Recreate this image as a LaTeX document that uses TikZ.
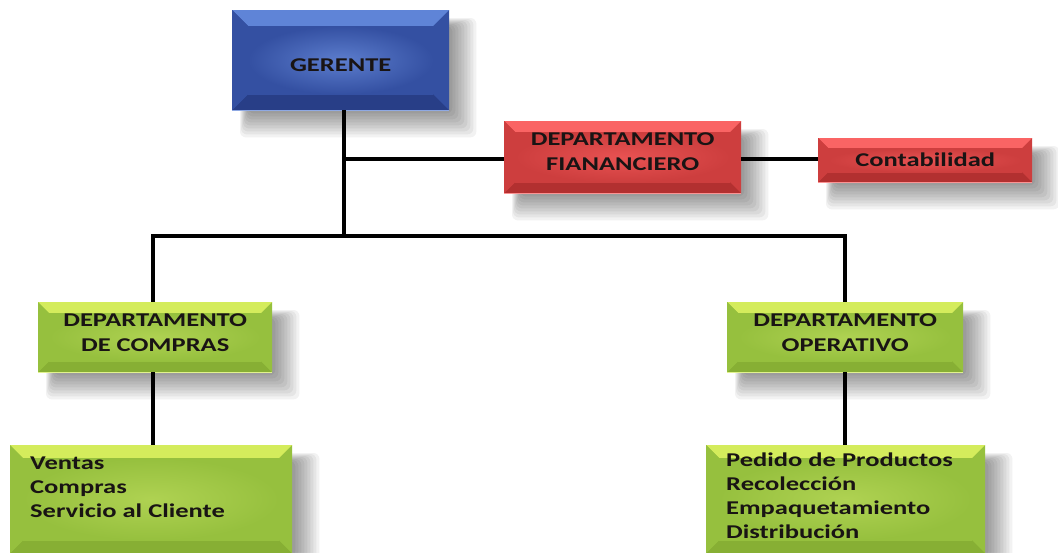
\documentclass[tikz,border=0pt]{standalone}
\usepackage{fontspec}
\newfontfamily\calfont[FakeStretch=1.36]{Carlito}
\usetikzlibrary{calc,backgrounds}
\definecolor{bTop}{RGB}{95,132,215}
\definecolor{bSide}{RGB}{52,80,162}
\definecolor{bBot}{RGB}{40,62,135}
\definecolor{bMid}{RGB}{92,125,205}
\definecolor{rTop}{RGB}{250,100,100}
\definecolor{rSide}{RGB}{205,62,62}
\definecolor{rBot}{RGB}{178,48,48}
\definecolor{rMid}{RGB}{232,82,82}
\definecolor{gTop}{RGB}{212,236,92}
\definecolor{gSide}{RGB}{150,192,62}
\definecolor{gBot}{RGB}{135,175,52}
\definecolor{gMid}{RGB}{175,210,82}
\definecolor{txt}{RGB}{25,20,20}
\tikzset{
  bevelw/.store in=\bvw, bevelw=12pt,
  shadowlayer/.style={fill=black, fill opacity=0.05, rounded corners=6pt},
  bevelbox/.style n args={4}{
    rectangle, anchor=north west, inner sep=0pt, fill=#2,
    font=\calfont\bfseries\fontsize{19.5}{24.5}\selectfont, text=txt, align=center,
    path picture={
      \coordinate (pnw) at (path picture bounding box.north west);
      \coordinate (pne) at (path picture bounding box.north east);
      \coordinate (psw) at (path picture bounding box.south west);
      \coordinate (pse) at (path picture bounding box.south east);
      \coordinate (inw) at ($(pnw)+(\bvw,-\bvw)$);
      \coordinate (ine) at ($(pne)+(-\bvw,-\bvw)$);
      \coordinate (isw) at ($(psw)+(\bvw,\bvw)$);
      \coordinate (ise) at ($(pse)+(-\bvw,\bvw)$);
      \fill[#1] (pnw)--(pne)--(ine)--(inw)--cycle;
      \fill[#3] (psw)--(pse)--(ise)--(isw)--cycle;
      \fill[#2] (pnw)--(inw)--(isw)--(psw)--cycle;
      \fill[#2] (pne)--(ine)--(ise)--(pse)--cycle;
      \shade[inner color=#4, outer color=#2] (inw) rectangle (ise);
      \draw[#1!70!white, line width=1.2pt] (psw) -- (pse);
    }
  },
  bluebox/.style={bevelbox={bTop}{bSide}{bBot}{bMid}},
  redbox/.style={bevelbox={rTop}{rSide}{rBot}{rMid}},
  greenbox/.style={bevelbox={gTop}{gSide}{gBot}{gMid}},
  listtext/.style={anchor=base west, inner sep=0pt, text=txt,
    font=\calfont\bfseries\fontsize{19.5}{24.3}\selectfont},
  conn/.style={line width=3.6pt, black}
}
\begin{document}
\begin{tikzpicture}[x=1pt,y=-1pt]
\useasboundingbox (0,0) rectangle (1058,552);
\begin{pgfonlayer}{background}
\fill[white] (0,0) rectangle (1058,552);
\end{pgfonlayer}
% boxes
\node[bluebox, bevelw=16pt, minimum width=217, minimum height=100, text height=22pt, text depth=0pt] (ger) at (232,10) {GERENTE};
\node[redbox, bevelw=11pt, minimum width=237, minimum height=72, text depth=11pt] (fin) at (504,121) {DEPARTAMENTO\\FIANANCIERO};
\node[redbox, bevelw=10pt, minimum width=214, minimum height=44] (cont) at (818,138) {Contabilidad};
\node[greenbox, bevelw=11pt, minimum width=234, minimum height=70, text depth=9pt] (comp) at (38,302) {DEPARTAMENTO\\DE COMPRAS};
\node[greenbox, bevelw=11pt, minimum width=236, minimum height=70, text depth=9pt] (oper) at (727,302) {DEPARTAMENTO\\OPERATIVO};
\node[greenbox, bevelw=13pt, minimum width=282, minimum height=108] (vent) at (10,445) {};
\node[greenbox, bevelw=13pt, minimum width=279, minimum height=108] (ped) at (706,445) {};
% list texts
\node[listtext] (ventxt) at (30,469) {\begin{tabular}[t]{@{}l@{}}Ventas\\Compras\\Servicio al Cliente\end{tabular}};
\node[listtext] (pedtxt) at (726,466) {\begin{tabular}[t]{@{}l@{}}Pedido de Productos\\Recolección\\Empaquetamiento\\Distribución\end{tabular}};
% soft shadows
\begin{pgfonlayer}{background}
\foreach \n in {ger,fin,cont,comp,oper,vent,ped}{
  \foreach \k in {0,...,8}{
    \path[shadowlayer] ($(\n.north west)+(16-\k,16-\k)$) rectangle ($(\n.south east)+(3+3*\k,3+3*\k)$);
  }
}
\end{pgfonlayer}
% junctions
\coordinate (j1) at (344,159);
\coordinate (j2) at (344,236);
\coordinate (jl) at (153,236);
\coordinate (jr) at (845,236);
% connectors
\draw[conn] (ger.south -| j2) -- (j2);
\draw[conn] (j1) -- (fin.west |- j1);
\draw[conn] (fin.east |- j1) -- (cont.west |- j1);
\draw[conn, line cap=rect] (jl) -- (jr);
\draw[conn] (jl) -- (comp.north -| jl);
\draw[conn] (jr) -- (oper.north -| jr);
\draw[conn] (comp.south -| jl) -- (vent.north -| jl);
\draw[conn] (oper.south -| jr) -- (ped.north -| jr);
\end{tikzpicture}
\end{document}
